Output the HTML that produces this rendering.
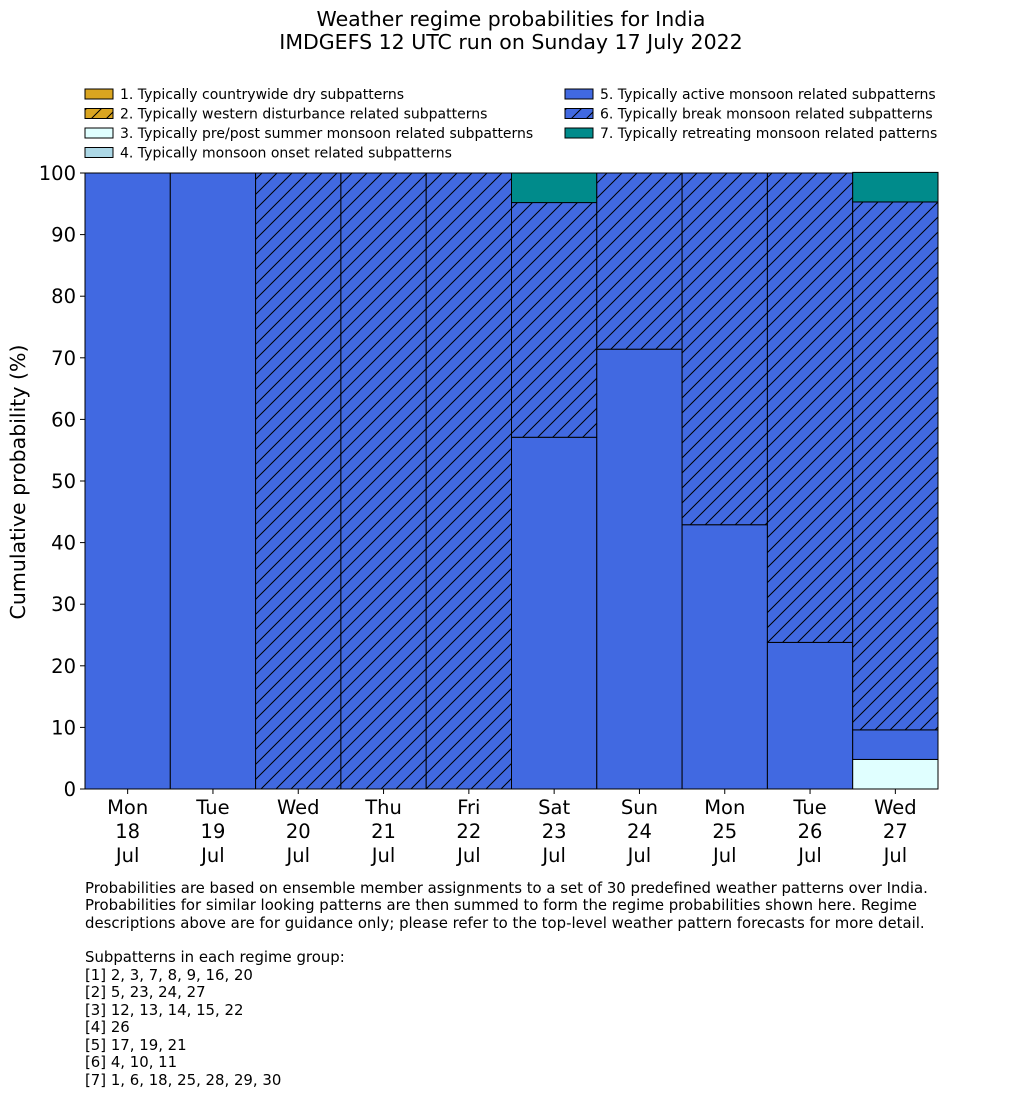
<!DOCTYPE html>
<html><head><meta charset="utf-8"><style>
body{margin:0;background:#fff;font-family:"Liberation Sans","DejaVu Sans",sans-serif;}
svg text{font-family:"DejaVu Sans","Liberation Sans",sans-serif;}
</style></head><body>
<svg id="c" width="1033" height="1114" xmlns="http://www.w3.org/2000/svg">
<defs>
<pattern id="hb" patternUnits="userSpaceOnUse" width="15" height="15"><rect width="15" height="15" fill="#4169e1"/><path d="M-1,16 L16,-1 M-2,2 L2,-2 M13,17 L17,13" stroke="#000" stroke-width="1"/></pattern>
<pattern id="hg" patternUnits="userSpaceOnUse" width="15" height="15"><rect width="15" height="15" fill="#daa520"/><path d="M-1,16 L16,-1 M-2,2 L2,-2 M13,17 L17,13" stroke="#000" stroke-width="1"/></pattern>
</defs>
<text x="511" y="26" text-anchor="middle" font-size="20.5">Weather regime probabilities for India</text>
<text x="511" y="49" text-anchor="middle" font-size="20.5">IMDGEFS 12 UTC run on Sunday 17 July 2022</text>
<g id="legend"></g>
<g id="bars"></g>
<g id="axes"></g>
<text transform="translate(25,482) rotate(-90)" text-anchor="middle" font-size="20.5">Cumulative probability (%)</text>
<g font-size="14.9">
<text x="85" y="893">Probabilities are based on ensemble member assignments to a set of 30 predefined weather patterns over India.</text>
<text x="85" y="910">Probabilities for similar looking patterns are then summed to form the regime probabilities shown here. Regime</text>
<text x="85" y="928">descriptions above are for guidance only; please refer to the top-level weather pattern forecasts for more detail.</text>
<text x="85" y="962">Subpatterns in each regime group:</text>
<text x="85" y="980">[1] 2, 3, 7, 8, 9, 16, 20</text>
<text x="85" y="997">[2] 5, 23, 24, 27</text>
<text x="85" y="1015">[3] 12, 13, 14, 15, 22</text>
<text x="85" y="1032">[4] 26</text>
<text x="85" y="1050">[5] 17, 19, 21</text>
<text x="85" y="1067">[6] 4, 10, 11</text>
<text x="85" y="1085">[7] 1, 6, 18, 25, 28, 29, 30</text>
</g>
</svg>
<script>
const days = ["Mon","Tue","Wed","Thu","Fri","Sat","Sun","Mon","Tue","Wed"];
const dates = ["18","19","20","21","22","23","24","25","26","27"];
const regimeNames = ["1. Typically countrywide dry subpatterns","2. Typically western disturbance related subpatterns","3. Typically pre/post summer monsoon related subpatterns","4. Typically monsoon onset related subpatterns","5. Typically active monsoon related subpatterns","6. Typically break monsoon related subpatterns","7. Typically retreating monsoon related patterns"];
const r1 = [0,0,0,0,0,0,0,0,0,0];
const r2 = [0,0,0,0,0,0,0,0,0,0];
const r3 = [0,0,0,0,0,0,0,0,0,4.8];
const r4 = [0,0,0,0,0,0,0,0,0,0];
const r5 = [100,100,0,0,0,57.1,71.4,42.9,23.8,4.8];
const r6 = [0,0,100,100,100,38.1,28.6,57.1,76.2,85.7];
const r7 = [0,0,0,0,0,4.8,0,0,0,4.8];
const yTicks = [0,10,20,30,40,50,60,70,80,90,100];

const fills = ["#daa520","url(#hg)","#e0ffff","#add8e6","#4169e1","url(#hb)","#008b8b"];
const series = [r1,r2,r3,r4,r5,r6,r7];
const ns="http://www.w3.org/2000/svg";
const X0=85,X1=938,Y0=789,Y1=173;
const bw=(X1-X0)/days.length;
const xs=i=>X0+i*bw;
const ys=v=>Y0-(v/100)*(Y0-Y1);
function mk(t,a,p){const e=document.createElementNS(ns,t);for(const k in a)e.setAttribute(k,a[k]);p.appendChild(e);return e;}
const bars=document.getElementById('bars');
for(let i=0;i<days.length;i++){
  let cum=0;
  for(let s=0;s<series.length;s++){
    const v=series[s][i]; if(!v) continue;
    const r=mk('rect',{x:xs(i),y:ys(cum+v),width:bw,height:ys(cum)-ys(cum+v),fill:fills[s],stroke:'#000','stroke-width':1},bars);
    
    
    cum+=v;
  }
}
const axes=document.getElementById('axes');
mk('line',{x1:X0,y1:Y1,x2:X0,y2:Y0,stroke:'#000'},axes);
mk('line',{x1:X0,y1:Y0,x2:X1,y2:Y0,stroke:'#000'},axes);
yTicks.forEach(t=>{
  mk('line',{x1:X0-5,y1:ys(t),x2:X0,y2:ys(t),stroke:'#000'},axes);
  const tx=mk('text',{x:X0-9,y:ys(t)+7,'text-anchor':'end','font-size':19.5},axes);
  tx.textContent=t;
  
  
});
days.forEach((d,i)=>{
  const cx=xs(i)+bw/2;
  mk('line',{x1:cx,y1:Y0,x2:cx,y2:Y0+5,stroke:'#000'},axes);
  [d,dates[i],"Jul"].forEach((s,j)=>{
    const tx=mk('text',{x:cx,y:814+j*24,'text-anchor':'middle','font-size':19.5},axes);
    tx.textContent=s;
    
    
  });
});
const lg=document.getElementById('legend');
regimeNames.forEach((n,k)=>{
  const col=k<4?0:1,row=k<4?k:k-4;
  const x=col?565:85,y=89+row*19.5;
  const r=mk('rect',{x:x,y:y,width:28,height:10,fill:fills[k],stroke:'#000','stroke-width':1},lg);
  
  
  const tx=mk('text',{x:x+35,y:y+10,'font-size':14},lg);
  tx.textContent=n;
  
  
});
</script>
</body></html>
